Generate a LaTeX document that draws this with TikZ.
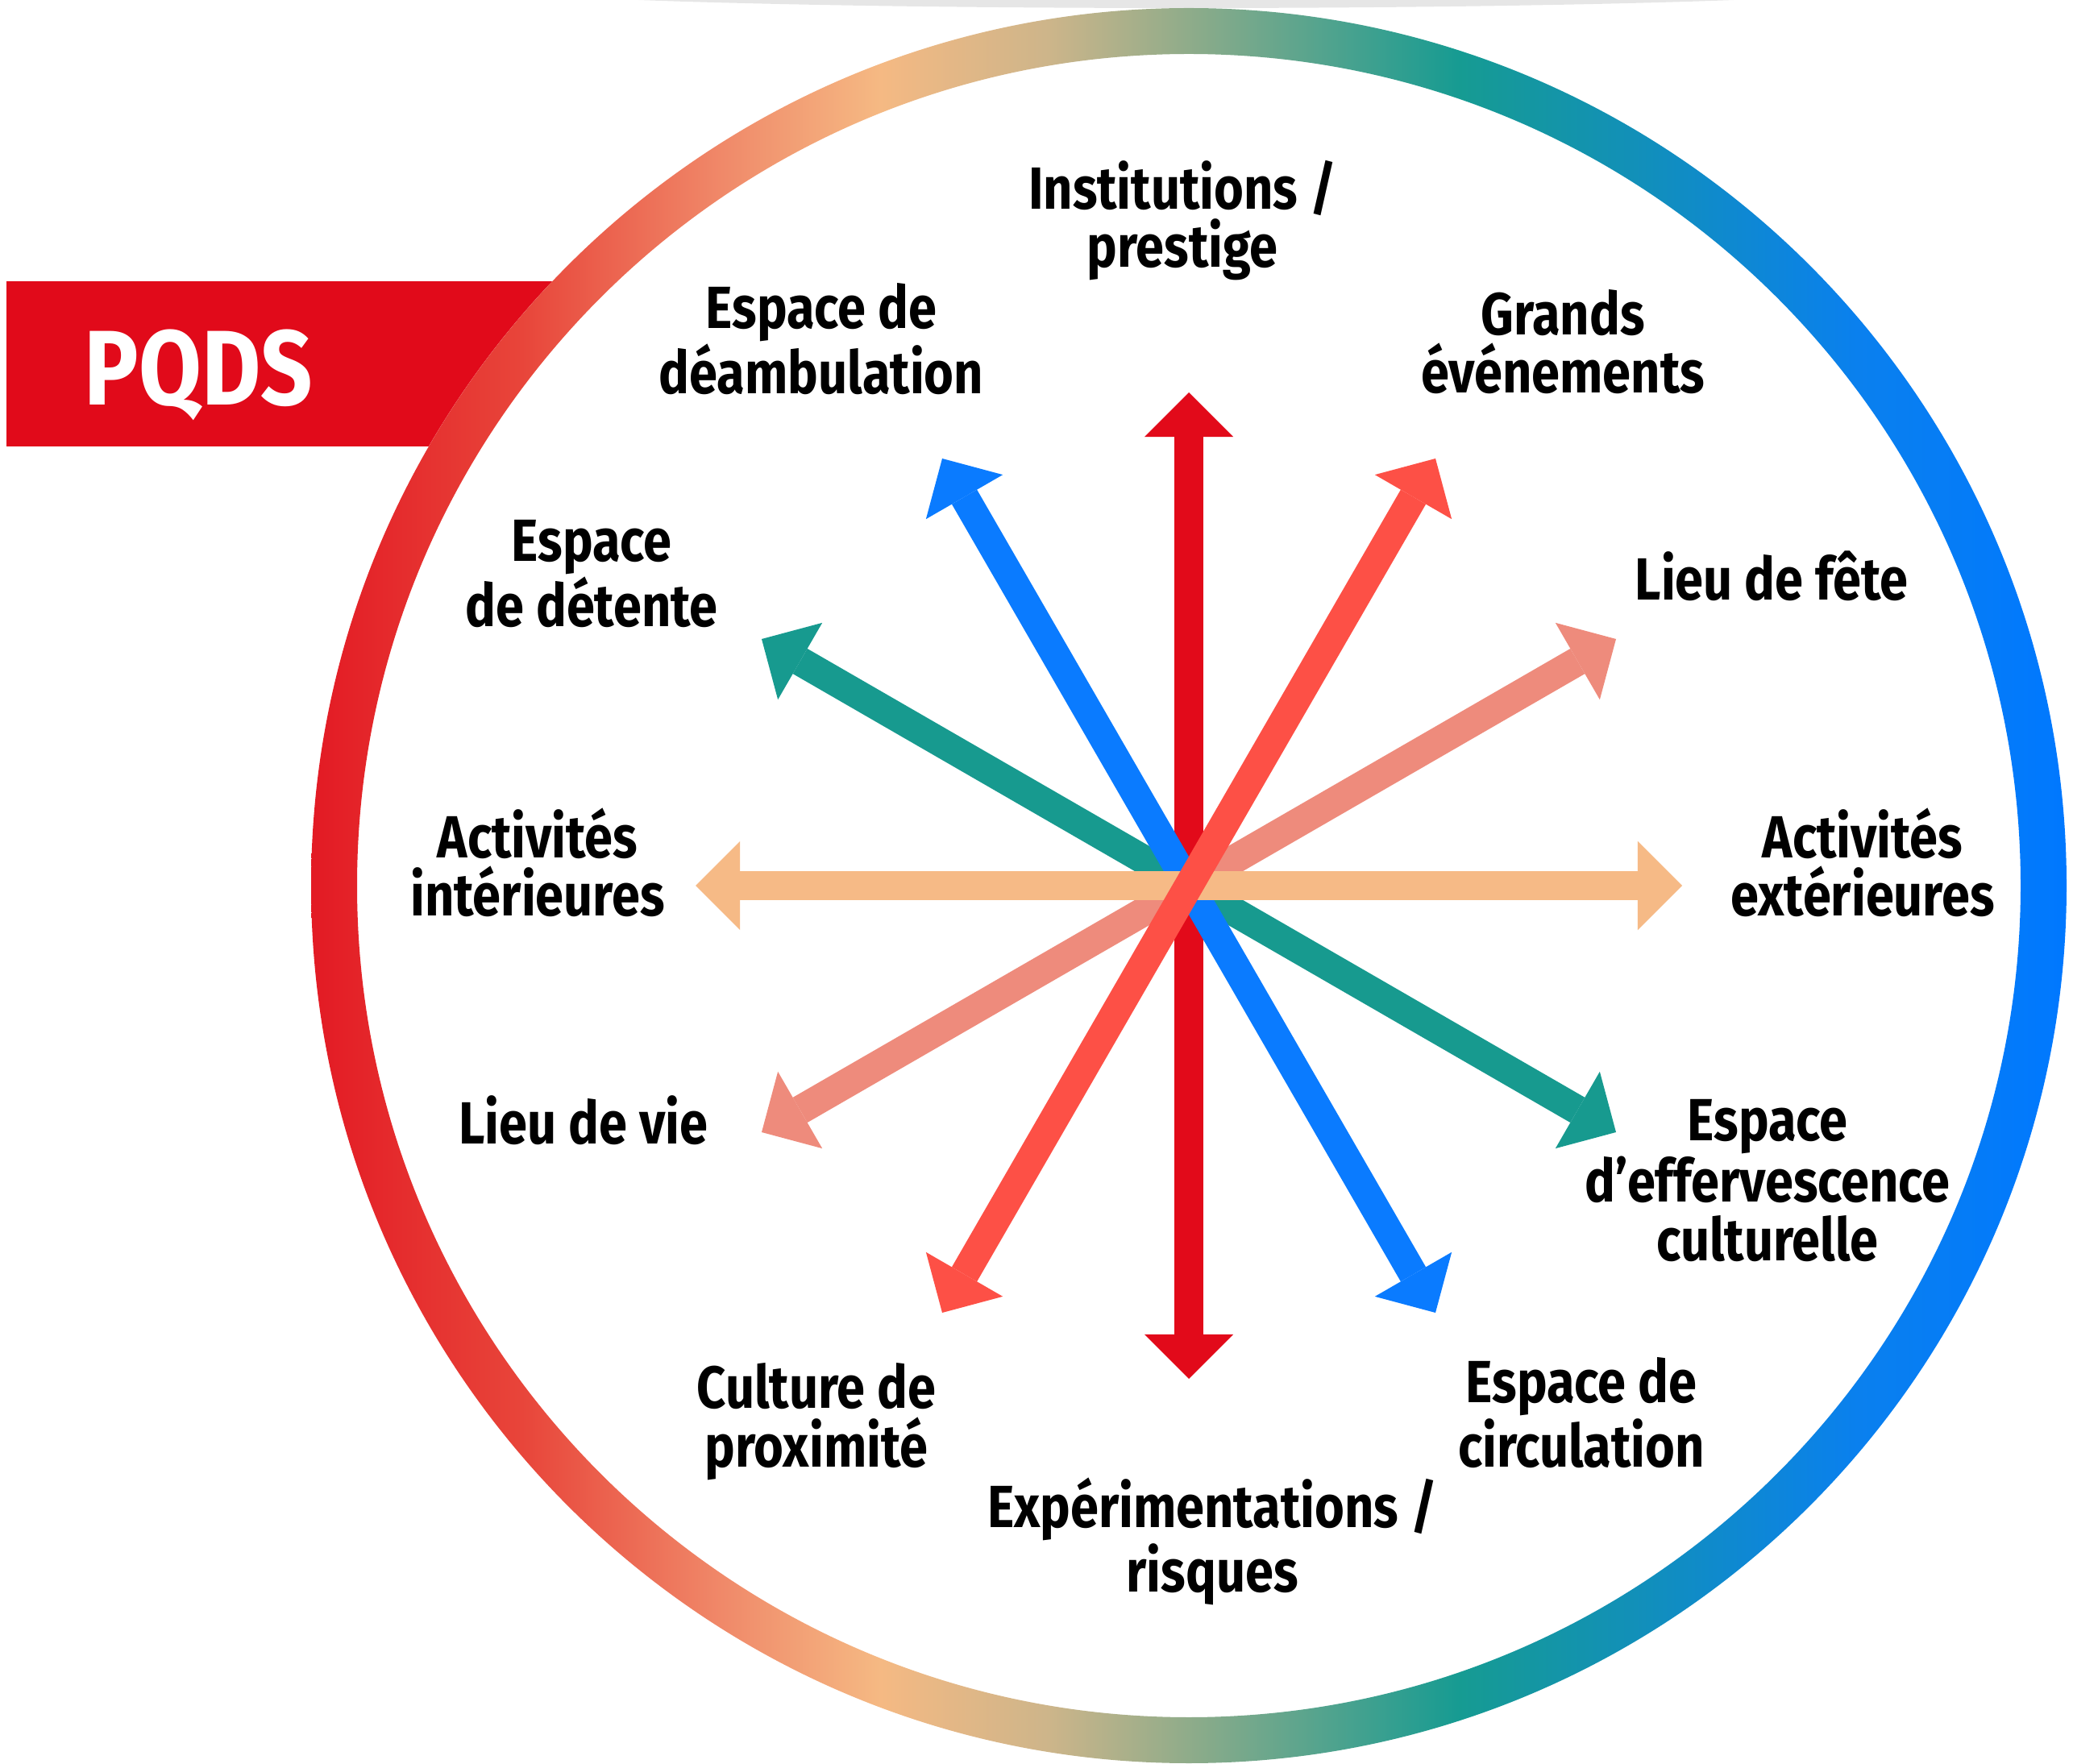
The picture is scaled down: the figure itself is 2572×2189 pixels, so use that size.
\documentclass[tikz,border=0pt]{standalone}
\usepackage{fontspec}
\newfontfamily\labfont{Fira Sans}[FakeStretch=0.855]
\usetikzlibrary{arrows.meta}
\definecolor{rg0}{HTML}{E31A24}
\definecolor{rg1}{HTML}{E8453A}
\definecolor{rg2}{HTML}{F08A6A}
\definecolor{rg3}{HTML}{F5B983}
\definecolor{rg4}{HTML}{CDB58A}
\definecolor{rg5}{HTML}{8AAB8A}
\definecolor{rg6}{HTML}{169B92}
\definecolor{rg7}{HTML}{1290B8}
\definecolor{rg8}{HTML}{0A80EE}
\definecolor{rg9}{HTML}{0078FF}
\definecolor{pqdsred}{HTML}{E10A1A}
\definecolor{shadowgrey}{HTML}{E6E6E6}
\definecolor{arrred}{HTML}{E20A1A}
\definecolor{arrblue}{HTML}{0A7BFF}
\definecolor{arrorange}{HTML}{FD5046}
\definecolor{arrteal}{HTML}{179A8F}
\definecolor{arrsalmon}{HTML}{EE8B7C}
\definecolor{arrpeach}{HTML}{F6BA86}
\pgfdeclarehorizontalshading{ringshade}{100bp}{color(0bp)=(rg0); color(25bp)=(rg0); color(31bp)=(rg1); color(36.8bp)=(rg2); color(41.2bp)=(rg3); color(46bp)=(rg4); color(50.3bp)=(rg5); color(57.7bp)=(rg6); color(62.6bp)=(rg7); color(69bp)=(rg8); color(75bp)=(rg9); color(100bp)=(rg9)}
\tikzset{
  arr/.style={line width=0.36cm,
    {Triangle[width=1.1cm,length=0.55cm,line width=0pt]}-{Triangle[width=1.1cm,length=0.55cm,line width=0pt]}},
  lab/.style={font=\labfont\bfseries\fontsize{21pt}{20.5pt}\selectfont, align=center, inner sep=0pt, anchor=base, text=black},
  pqdslab/.style={font=\labfont\bfseries\fontsize{37.5pt}{40pt}\selectfont, inner sep=0pt, anchor=base west, text=white}
}
\begin{document}
\begin{tikzpicture}[x=0.01cm, y=-0.01cm]
\useasboundingbox (0,0) rectangle (2572,2189);
\coordinate (C) at (1475,1099);
% top shadow
\fill[shadowgrey] (1472,-19) ellipse [x radius=900, y radius=29];
% PQDS band
\fill[pqdsred] (8,349) rectangle (900,554);
\node[pqdslab] (pqds) at (104,503) {PQDS};
% ring
\fill[white] (C) circle [radius=1089];
\shade[shading=ringshade, even odd rule] (C) circle [radius=1089] (C) circle [radius=1032];
% arrow end points
\coordinate (a90s) at (1475,1711); \coordinate (a90e) at (1475,487);
\coordinate (a0s) at (863,1099);   \coordinate (a0e) at (2087,1099);
\coordinate (a60s) at (1169,1629); \coordinate (a60e) at (1781,569);
\coordinate (a120s) at (1781,1629); \coordinate (a120e) at (1169,569);
\coordinate (a30s) at (945,1405);  \coordinate (a30e) at (2005,793);
\coordinate (a150s) at (2005,1405); \coordinate (a150e) at (945,793);
\draw[arr, arrred] (a90s) -- (a90e);
\draw[arr, arrteal] (a150s) -- (a150e);
\draw[arr, arrblue] (a120s) -- (a120e);
\draw[arr, arrsalmon] (a30s) -- (a30e);
\draw[arr, arrpeach] (a0s) -- (a0e);
\draw[arr, arrorange] (a60s) -- (a60e);
% labels (anchor = baseline of the last line)
\node[lab] (inst) at (1467,332) {Institutions /\\prestige};
\node[lab] (deamb) at (1019,489) {Espace de\\déambulation};
\node[lab] (grands) at (1939,488) {Grands\\événements};
\node[lab] (detente) at (734,778) {Espace\\de détente};
\node[lab] (fete) at (2198,745) {Lieu de fête};
\node[lab] (inter) at (667,1137) {Activités\\intérieures};
\node[lab] (exter) at (2311,1137) {Activités\\extérieures};
\node[lab] (vie) at (724,1420) {Lieu de vie};
\node[lab] (eff) at (2193,1564) {Espace\\d’effervescence\\culturelle};
\node[lab] (prox) at (1013,1820) {Culture de\\proximité};
\node[lab] (circ) at (1962,1820) {Espace de\\circulation};
\node[lab] (expe) at (1504,1975) {Expérimentations /\\risques};
\end{tikzpicture}
\end{document}
